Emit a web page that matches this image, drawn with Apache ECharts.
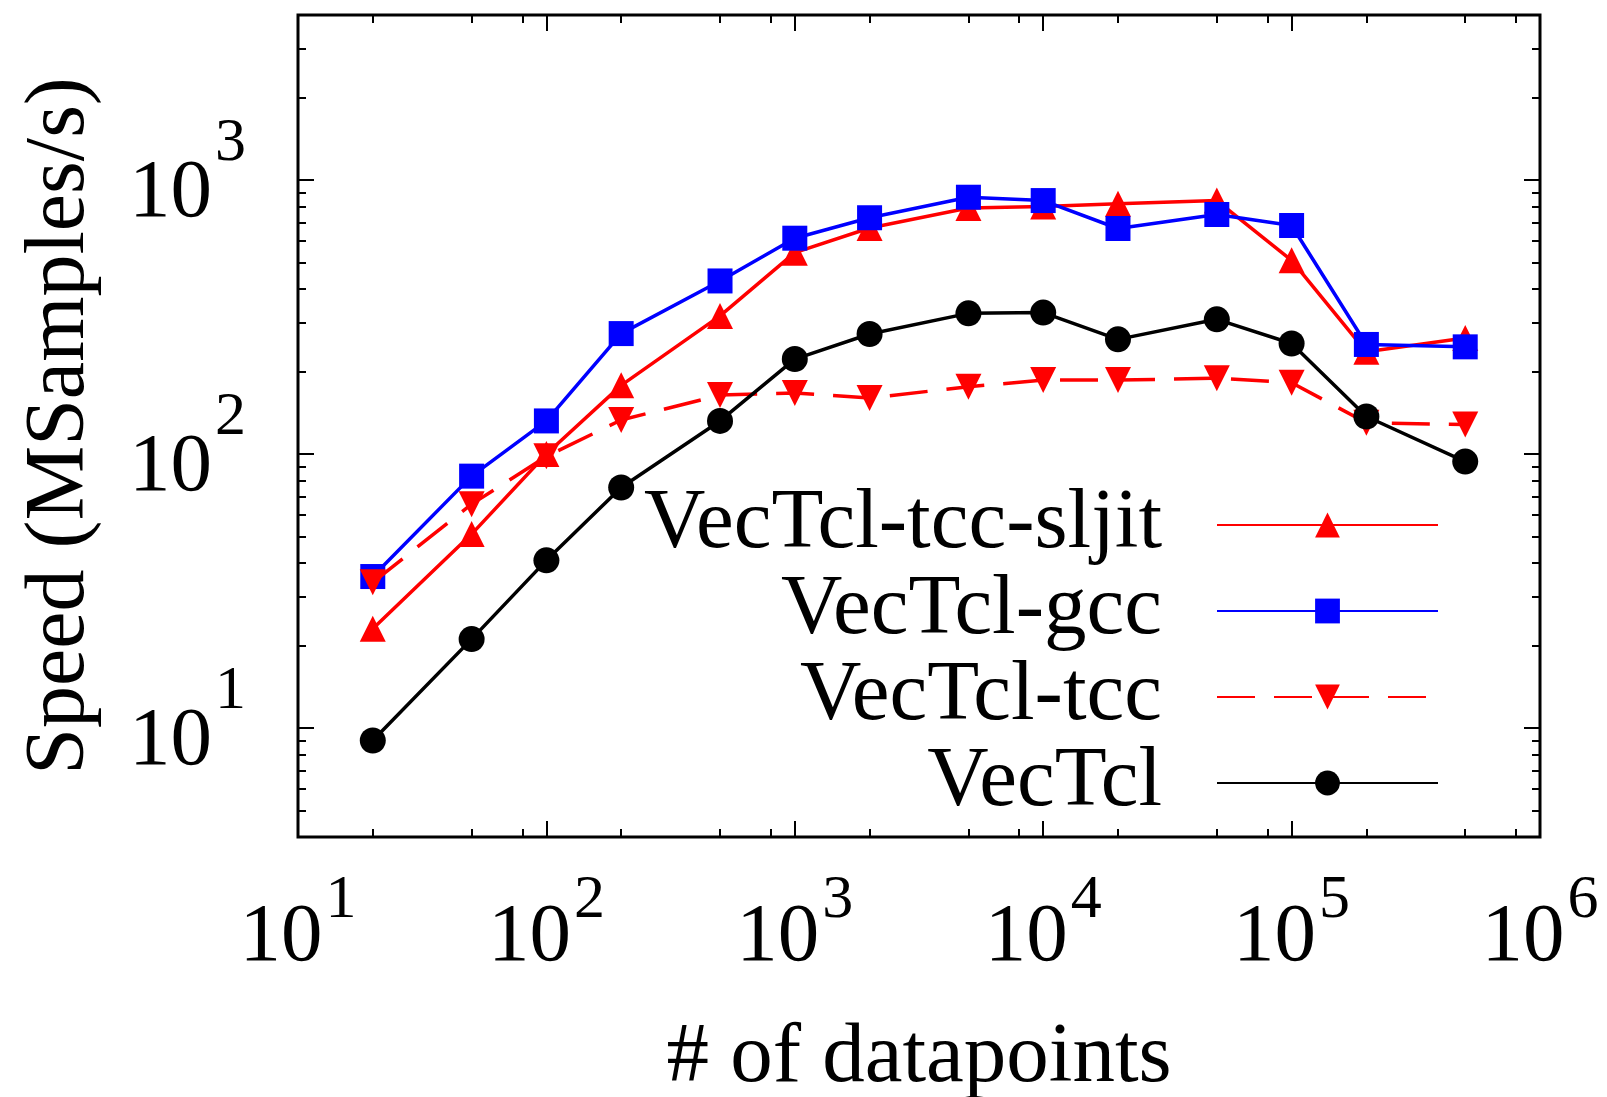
<!DOCTYPE html>
<html>
<head>
<meta charset="utf-8">
<script src="https://cdn.jsdelivr.net/npm/echarts@6/dist/echarts.min.js"></script>
<style>
html,body{margin:0;padding:0;background:#fff;}
#chart{width:1607px;height:1097px;}
</style>
</head>
<body>
<div id="chart"></div>
<script>
// ---- data ----
const datapoints = [20, 50, 100, 200, 500, 1000, 2000, 5000, 10000, 20000, 50000, 100000, 200000, 500000];
const sljitSpeed = [23, 51, 100, 178, 319, 543, 668, 790, 800, 818, 841, 509, 236, 265];
const gccSpeed   = [35.7, 83, 132, 275, 428, 613, 728, 865, 841, 665, 748, 682, 251, 246];
const tccSpeed   = [34, 65.6, 98, 133, 164, 167, 160, 176, 186, 186, 189, 182, 130, 128];
const vectclSpeed = [9.0, 21.1, 40.9, 75.4, 132, 222, 274, 326, 328, 262, 310, 253, 137, 93.8];

const seriesNames = ['VecTcl-tcc-sljit', 'VecTcl-gcc', 'VecTcl-tcc', 'VecTcl'];

const xMajorTicks = [10, 100, 1000, 10000, 100000, 1000000];
const xTickExponents = ['1', '2', '3', '4', '5', '6'];
const xMinorTicks = [20, 50, 80, 200, 500, 800, 2000, 5000, 8000, 20000, 50000, 80000, 200000, 500000, 800000];
const yMajorTicks = [10, 100, 1000];
const yTickExponents = ['1', '2', '3'];
const yMinorTicks = [5, 6, 7, 8, 9, 20, 30, 40, 50, 60, 70, 80, 90, 200, 300, 400, 500, 600, 700, 800, 900, 2000, 3000];

const xTitle = '# of datapoints';
const yTitle = 'Speed (MSamples/s)';

// ---- chart ----
const FONT = 'Liberation Serif';
function pairs(ys) { return datapoints.map((x, i) => [x, ys[i]]); }

const yRich = {
  b: { fontFamily: FONT, fontSize: 83, lineHeight: 80, padding: [28, 0, 0, 0], color: '#000' },
  s: { fontFamily: FONT, fontSize: 62, lineHeight: 46, padding: [0, 0, 72, 3], color: '#000' }
};
const xRich = {
  b: { fontFamily: FONT, fontSize: 83, lineHeight: 80, padding: [28, 0, 0, 0], color: '#000' },
  s: { fontFamily: FONT, fontSize: 62, lineHeight: 46, padding: [0, 0, 46, 3], color: '#000' }
};
function labelFor(majors, exps) {
  return function (v) {
    let idx = 0, best = Infinity;
    majors.forEach((m, i) => { const d = Math.abs(Math.log10(m) - Math.log10(v)); if (d < best) { best = d; idx = i; } });
    return '{b|10}{s|' + exps[idx] + '}';
  };
}

const tickStyle = { color: '#000', width: 2 };

function xAxisDef(position, values, len, withLabel) {
  const a = {
    type: 'log', logBase: 10, min: 10, max: 1000000, position: position,
    axisLine: { show: false },
    splitLine: { show: false },
    axisTick: { show: true, inside: true, length: len, lineStyle: tickStyle, customValues: values },
    axisLabel: { show: false }
  };
  if (withLabel) {
    a.axisLabel = { show: true, customValues: xMajorTicks, margin: 47, formatter: labelFor(xMajorTicks, xTickExponents), rich: xRich };
    a.name = xTitle;
    a.nameLocation = 'middle';
    a.nameGap = 179;
    a.nameTextStyle = { fontFamily: FONT, fontSize: 85, color: '#000' };
  }
  return a;
}
function yAxisDef(position, values, len, withLabel) {
  const a = {
    type: 'log', logBase: 10, min: 4, max: 4000, position: position,
    axisLine: { show: false },
    splitLine: { show: false },
    axisTick: { show: true, inside: true, length: len, lineStyle: tickStyle, customValues: values },
    axisLabel: { show: false }
  };
  if (withLabel) {
    a.axisLabel = { show: true, customValues: yMajorTicks, margin: 52, formatter: labelFor(yMajorTicks, yTickExponents), rich: yRich };
    a.name = yTitle;
    a.nameLocation = 'middle';
    a.nameGap = 195;
    a.nameRotate = 90;
    a.nameTextStyle = { fontFamily: FONT, fontSize: 84, color: '#000' };
  }
  return a;
}

const colors = ['#ff0000', '#0000ff', '#ff0000', '#000000'];
const symbols = ['triangle', 'rect', 'triangle', 'circle'];
const rotates = [0, 0, 180, 0];
const dashes = ['solid', 'solid', [38, 19], 'solid'];
const values = [sljitSpeed, gccSpeed, tccSpeed, vectclSpeed];

const series = seriesNames.map((n, i) => ({
  name: n,
  type: 'line',
  xAxisIndex: 0,
  yAxisIndex: 0,
  data: pairs(values[i]),
  symbol: symbols[i],
  symbolRotate: rotates[i],
  symbolSize: symbols[i] === 'rect' ? 25 : 26,
  showAllSymbol: true,
  lineStyle: { color: colors[i], width: 3.5, type: dashes[i] },
  itemStyle: { color: colors[i] },
  emphasis: { disabled: true },
  z: 2 + i
}));

const chart = echarts.init(document.getElementById('chart'), null, { renderer: 'canvas' });
chart.setOption({
  animation: false,
  backgroundColor: '#ffffff',
  grid: { left: 298, right: 67, top: 15, bottom: 260, show: true, borderColor: '#000', borderWidth: 3, backgroundColor: 'transparent', outerBoundsMode: 'none', containLabel: false },
  legend: {
    data: seriesNames,
    orient: 'vertical',
    right: 168,
    top: 482,
    padding: 0,
    itemGap: 0,
    itemWidth: 221,
    itemHeight: 31,
    align: 'right',
    selectedMode: false,
    textStyle: { fontFamily: FONT, fontSize: 85, lineHeight: 86, color: '#000', padding: [0, 50, 0, 0] }
  },
  xAxis: [
    xAxisDef('bottom', xMajorTicks, 16, true),
    xAxisDef('bottom', xMinorTicks, 8, false),
    xAxisDef('top', xMajorTicks, 16, false),
    xAxisDef('top', xMinorTicks, 8, false)
  ],
  yAxis: [
    yAxisDef('left', yMajorTicks, 16, true),
    yAxisDef('left', yMinorTicks, 8, false),
    yAxisDef('right', yMajorTicks, 16, false),
    yAxisDef('right', yMinorTicks, 8, false)
  ],
  series: series
});
</script>
</body>
</html>
